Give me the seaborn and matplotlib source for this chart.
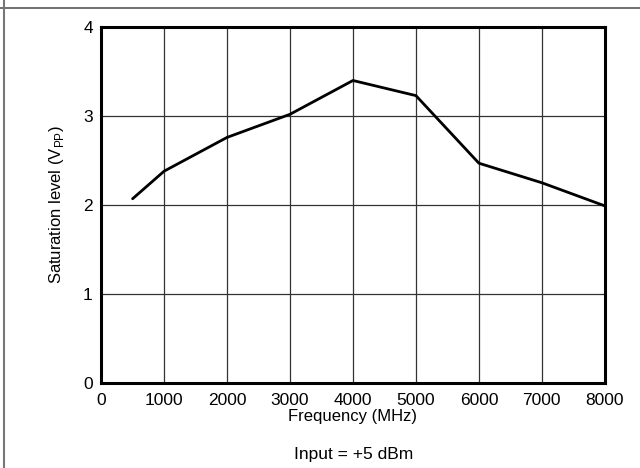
import numpy as np
import pandas as pd
import seaborn as sns
import matplotlib.pyplot as plt
from matplotlib.lines import Line2D

# 数据
freq_mhz = [500, 1000, 2000, 3000, 4000, 5000, 6000, 7000, 8000]
sat_vpp = [2.07, 2.38, 2.76, 3.02, 3.40, 3.23, 2.47, 2.25, 1.99]
x_ticks = [0, 1000, 2000, 3000, 4000, 5000, 6000, 7000, 8000]
y_ticks = [0, 1, 2, 3, 4]

df = pd.DataFrame({'freq': freq_mhz, 'sat': sat_vpp})

sns.set_style('white')
plt.rcParams['font.family'] = ['Liberation Sans', 'DejaVu Sans']
plt.rcParams['mathtext.fontset'] = 'custom'
plt.rcParams['mathtext.rm'] = 'Liberation Sans'

fig = plt.figure(figsize=(6.4, 4.68), dpi=100)
ax = fig.add_axes([0.158, 0.182, 0.787, 0.760])

sns.lineplot(data=df, x='freq', y='sat', color='black', linewidth=2, ax=ax)

ax.set_xlim(0, 8000)
ax.set_ylim(0, 4)
ax.set_xticks(x_ticks)
ax.set_yticks(y_ticks)
ax.grid(True, color='#333333', linewidth=0.9)
ax.tick_params(axis='x', length=0, labelsize=12.5, colors='black', pad=7)
ax.tick_params(axis='y', length=0, labelsize=12.5, colors='black', pad=6)
for s in ax.spines.values():
    s.set_visible(True)
    s.set_color('black')
    s.set_linewidth(2.2)

ax.set_xlabel('Frequency (MHz)', fontsize=12, labelpad=1, color='black')
ax.set_ylabel(r'Saturation level (V$_{\mathregular{PP}}$)', fontsize=12, labelpad=12,
              color='black')

fig.text(0.552, 0.028, 'Input = +5 dBm', ha='center', va='center', fontsize=12.5,
         color='black')

# 外框线（表格单元格）
fig.add_artist(Line2D([0.0, 1.0], [1 - 8 / 468, 1 - 8 / 468], transform=fig.transFigure,
                      color='#555555', linewidth=1.2))
fig.add_artist(Line2D([4 / 640, 4 / 640], [0.0, 1.0], transform=fig.transFigure,
                      color='#777777', linewidth=1.5))

fig.savefig('out.png', dpi=100)
